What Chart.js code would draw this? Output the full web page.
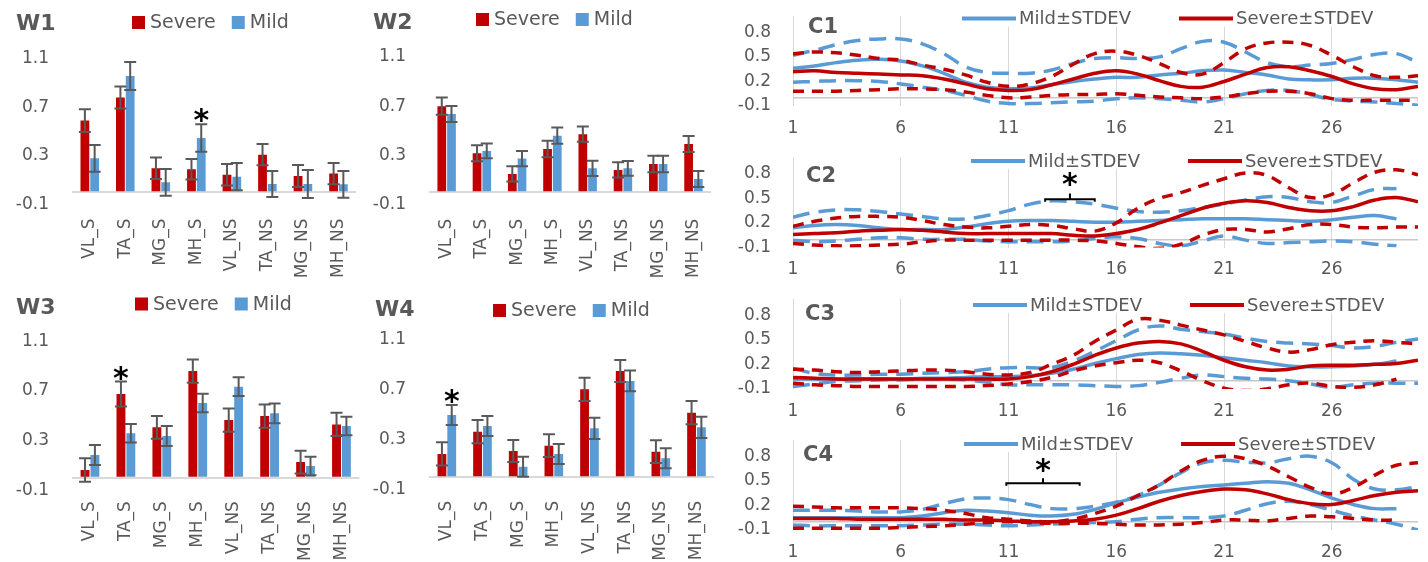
<!DOCTYPE html>
<html><head><meta charset="utf-8">
<script src="https://cdn.jsdelivr.net/npm/chart.js@4.4.1/dist/chart.umd.min.js"></script>
<style>
html,body{margin:0;padding:0;background:#fff;}
body{width:1428px;height:562px;position:relative;overflow:hidden;}
canvas{position:absolute;}
</style></head><body>
<canvas id="w1"></canvas><canvas id="w2"></canvas><canvas id="w3"></canvas><canvas id="w4"></canvas>
<canvas id="c1"></canvas><canvas id="c2"></canvas><canvas id="c3"></canvas><canvas id="c4"></canvas>
<script>
// ---------- DATA ----------
const barCats = ['VL_S','TA_S','MG_S','MH_S','VL_NS','TA_NS','MG_NS','MH_NS'];
const barTicks = [-0.1, 0, 0.3, 0.7, 1.1];

const w1Severe    = [0.59, 0.78, 0.198, 0.19, 0.145, 0.31, 0.134, 0.154];
const w1SevereErr = [0.093, 0.09, 0.088, 0.085, 0.088, 0.088, 0.09, 0.087];
const w1Mild      = [0.28, 0.957, 0.082, 0.447, 0.129, 0.069, 0.069, 0.066];
const w1MildErr   = [0.11, 0.116, 0.11, 0.113, 0.112, 0.107, 0.115, 0.11];

const w2Severe    = [0.70, 0.317, 0.149, 0.352, 0.472, 0.182, 0.23, 0.393];
const w2SevereErr = [0.07, 0.065, 0.062, 0.068, 0.062, 0.062, 0.068, 0.065];
const w2Mild      = [0.637, 0.336, 0.274, 0.46, 0.195, 0.195, 0.23, 0.108];
const w2MildErr   = [0.065, 0.06, 0.062, 0.066, 0.062, 0.06, 0.068, 0.065];

const w3Severe    = [0.062, 0.675, 0.406, 0.86, 0.465, 0.497, 0.126, 0.43];
const w3SevereErr = [0.094, 0.10, 0.091, 0.094, 0.094, 0.094, 0.092, 0.094];
const w3Mild      = [0.183, 0.358, 0.336, 0.602, 0.734, 0.519, 0.094, 0.417];
const w3MildErr   = [0.08, 0.075, 0.081, 0.075, 0.076, 0.08, 0.075, 0.075];

const w4Severe    = [0.187, 0.365, 0.211, 0.253, 0.704, 0.851, 0.205, 0.517];
const w4SevereErr = [0.093, 0.093, 0.088, 0.091, 0.093, 0.088, 0.091, 0.093];
const w4Mild      = [0.499, 0.411, 0.085, 0.187, 0.392, 0.771, 0.152, 0.40];
const w4MildErr   = [0.08, 0.08, 0.08, 0.08, 0.085, 0.083, 0.08, 0.085];

const w1Stars = [['MH_S', 'Mild']];
const w2Stars = [];
const w3Stars = [['TA_S', 'Severe']];
const w4Stars = [['VL_S', 'Mild']];

const days = [1,2,3,4,5,6,7,8,9,10,11,12,13,14,15,16,17,18,19,20,21,22,23,24,25,26,27,28,29,30];
const lineTicksX = [1, 6, 11, 16, 21, 26];
const lineTicksY = [-0.1, 0, 0.2, 0.5, 0.8];

const c1Mild     = [0.36,0.39,0.43,0.46,0.47,0.45,0.39,0.30,0.19,0.13,0.11,0.12,0.16,0.20,0.23,0.25,0.25,0.28,0.30,0.33,0.34,0.31,0.28,0.23,0.22,0.22,0.24,0.24,0.22,0.19];
const c1MildHi   = [0.52,0.58,0.65,0.70,0.72,0.72,0.66,0.54,0.38,0.31,0.30,0.30,0.34,0.42,0.48,0.49,0.48,0.50,0.60,0.69,0.68,0.56,0.43,0.38,0.40,0.42,0.47,0.53,0.54,0.43];
const c1MildLo   = [0.19,0.20,0.21,0.21,0.20,0.17,0.13,0.09,0.03,-0.04,-0.07,-0.07,-0.06,-0.05,-0.04,-0.01,0.00,-0.01,-0.03,-0.05,-0.01,0.05,0.09,0.09,0.04,-0.02,-0.04,-0.05,-0.07,-0.09];
const c1Severe   = [0.32,0.33,0.31,0.30,0.29,0.28,0.27,0.23,0.17,0.11,0.09,0.10,0.16,0.23,0.30,0.33,0.29,0.21,0.14,0.13,0.20,0.29,0.37,0.38,0.33,0.26,0.17,0.11,0.10,0.14];
const c1SevereHi = [0.54,0.56,0.55,0.52,0.48,0.46,0.40,0.35,0.28,0.19,0.14,0.17,0.26,0.41,0.54,0.57,0.52,0.42,0.31,0.29,0.43,0.60,0.67,0.68,0.64,0.52,0.38,0.27,0.25,0.27];
const c1SevereLo = [0.08,0.08,0.08,0.09,0.10,0.11,0.11,0.10,0.07,0.03,0.00,0.01,0.03,0.04,0.04,0.05,0.03,0.01,0.00,-0.01,0.01,0.05,0.08,0.08,0.05,-0.01,-0.03,-0.03,-0.03,-0.03];

const c2Mild     = [0.14,0.17,0.18,0.17,0.14,0.12,0.12,0.12,0.15,0.19,0.22,0.23,0.23,0.22,0.21,0.21,0.22,0.23,0.24,0.25,0.25,0.25,0.24,0.23,0.22,0.24,0.27,0.29,0.25,null];
const c2MildHi   = [0.27,0.33,0.36,0.36,0.34,0.31,0.28,0.25,0.25,0.29,0.35,0.43,0.47,0.46,0.43,0.38,0.34,0.33,0.35,0.39,0.43,0.48,0.52,0.51,0.46,0.45,0.53,0.61,0.62,null];
const c2MildLo   = [-0.01,-0.03,-0.02,0.00,0.02,0.02,0.00,0.00,0.00,-0.02,-0.03,-0.03,-0.03,-0.02,0.01,0.03,0.01,-0.05,-0.08,-0.02,0.04,-0.01,-0.05,-0.04,-0.03,-0.02,-0.03,-0.06,-0.08,null];
const c2Severe   = [0.06,0.07,0.08,0.10,0.11,0.12,0.11,0.09,0.07,0.07,0.07,0.07,0.07,0.05,0.04,0.07,0.12,0.20,0.29,0.38,0.44,0.47,0.45,0.39,0.35,0.35,0.40,0.48,0.51,0.46];
const c2SevereHi = [0.16,0.22,0.26,0.28,0.28,0.27,0.23,0.18,0.15,0.14,0.16,0.18,0.17,0.13,0.10,0.20,0.38,0.50,0.57,0.66,0.74,0.81,0.78,0.63,0.51,0.55,0.69,0.82,0.85,0.79];
const c2SevereLo = [-0.05,-0.07,-0.08,-0.08,-0.07,-0.06,-0.03,-0.01,-0.01,-0.01,-0.01,-0.01,-0.01,-0.01,-0.02,-0.05,-0.09,-0.11,-0.06,0.05,0.12,0.12,0.09,0.13,0.18,0.18,0.15,0.14,0.15,0.15];

const c3Mild     = [0.02,0.02,0.02,0.02,0.02,0.02,0.03,0.03,0.04,0.05,0.05,0.06,0.09,0.14,0.21,0.27,0.32,0.34,0.33,0.31,0.28,0.25,0.22,0.18,0.17,0.17,0.18,0.20,0.24,null];
const c3MildHi   = [0.15,0.09,0.07,0.07,0.08,0.08,0.09,0.10,0.11,0.14,0.16,0.16,0.16,0.24,0.36,0.49,0.62,0.67,0.63,0.60,0.57,0.52,0.48,0.46,0.45,0.43,0.40,0.42,0.47,0.51];
const c3MildLo   = [-0.07,-0.04,-0.01,0.00,0.01,0.01,0.02,0.02,0.01,-0.02,-0.05,-0.05,-0.05,-0.05,-0.06,-0.07,-0.06,-0.02,0.03,0.07,0.05,0.03,0.02,0.00,-0.04,-0.08,-0.05,-0.03,-0.03,-0.03];
const c3Severe   = [0.04,0.03,0.02,0.02,0.02,0.02,0.02,0.02,0.02,0.02,0.02,0.05,0.11,0.20,0.31,0.40,0.46,0.48,0.45,0.36,0.25,0.17,0.13,0.14,0.18,0.19,0.19,0.20,0.21,0.25];
const c3SevereHi = [0.14,0.13,0.11,0.10,0.11,0.12,0.13,0.13,0.11,0.08,0.07,0.10,0.20,0.31,0.48,0.62,0.75,0.74,0.68,0.62,0.56,0.48,0.40,0.35,0.38,0.44,0.47,0.49,0.47,0.45];
const c3SevereLo = [-0.03,-0.05,-0.06,-0.07,-0.07,-0.07,-0.07,-0.07,-0.07,-0.06,-0.04,-0.01,0.04,0.12,0.18,0.22,0.25,0.22,0.12,0.00,-0.09,-0.12,-0.10,-0.05,-0.03,-0.07,-0.08,-0.05,0.02,null];

const c4Mild     = [0.05,0.05,0.05,0.05,0.05,0.05,0.07,0.11,0.14,0.13,0.11,0.08,0.07,0.09,0.15,0.23,0.30,0.36,0.40,0.43,0.45,0.47,0.49,0.47,0.39,0.29,0.21,0.16,0.16,null];
const c4MildHi   = [0.14,0.14,0.14,0.13,0.12,0.12,0.15,0.22,0.28,0.29,0.27,0.21,0.16,0.16,0.19,0.24,0.32,0.45,0.60,0.72,0.75,0.73,0.72,0.77,0.80,0.72,0.52,0.40,0.39,0.43];
const c4MildLo   = [-0.04,-0.05,-0.05,-0.05,-0.05,-0.05,-0.04,-0.03,-0.03,-0.04,-0.05,-0.04,-0.03,-0.02,-0.01,0.00,0.03,0.05,0.05,0.05,0.07,0.14,0.22,0.25,0.21,0.14,0.07,0.02,-0.03,-0.10];
const c4Severe   = [0.04,0.04,0.04,0.03,0.03,0.03,0.03,0.03,0.02,0.02,0.01,0.00,0.00,0.01,0.03,0.08,0.16,0.25,0.32,0.37,0.40,0.39,0.34,0.27,0.22,0.21,0.26,0.32,0.36,0.38];
const c4SevereHi = [0.19,0.18,0.17,0.17,0.17,0.17,0.16,0.14,0.10,0.05,0.03,0.01,0.00,0.03,0.10,0.19,0.32,0.45,0.62,0.75,0.80,0.77,0.68,0.55,0.42,0.34,0.42,0.57,0.69,0.72];
const c4SevereLo = [-0.08,-0.08,-0.08,-0.08,-0.08,-0.07,-0.06,-0.05,-0.03,-0.01,0.00,-0.01,-0.02,-0.02,-0.02,-0.03,-0.04,-0.04,-0.03,-0.01,0.02,0.02,0.01,0.04,0.07,0.06,0.04,0.02,0.02,null];

const c2Bracket = {x0: 12.7, x1: 15.0, y: 0.49, yEnd: 0.46, yTip: 0.56, yStar: 0.76};
const c4Bracket = {x0: 10.9, x1: 14.3, y: 0.47, yEnd: 0.44, yTip: 0.53, yStar: 0.72};

// ---------- STYLE ----------
const RED = '#C00000', BLUE = '#5B9BD5', GRAY = '#595959';
const FONT = "'DejaVu Sans', sans-serif";
Chart.defaults.font.family = FONT;
Chart.defaults.color = GRAY;

function drawStar(ctx, x, cy) {
  ctx.save();
  ctx.font = "bold 30px 'DejaVu Sans'";
  ctx.fillStyle = '#000'; ctx.textAlign = 'center'; ctx.textBaseline = 'alphabetic';
  ctx.fillText('*', x, cy + 0.57 * 30);
  ctx.restore();
}

const errorBarsPlugin = {
  id: 'errorBars',
  afterDatasetsDraw(chart) {
    const ctx = chart.ctx, ys = chart.scales.y;
    ctx.save(); ctx.strokeStyle = GRAY; ctx.lineWidth = 2;
    chart.data.datasets.forEach((ds, i) => {
      if (!ds.errors) return;
      chart.getDatasetMeta(i).data.forEach((el, j) => {
        const v = ds.data[j], e = ds.errors[j];
        const t = ys.getPixelForValue(v + e), b = ys.getPixelForValue(v - e), x = el.x, c = 6;
        ctx.beginPath();
        ctx.moveTo(x, t); ctx.lineTo(x, b);
        ctx.moveTo(x - c, t); ctx.lineTo(x + c, t);
        ctx.moveTo(x - c, b); ctx.lineTo(x + c, b);
        ctx.stroke();
      });
    });
    ctx.restore();
  }
};

const barStarsPlugin = {
  id: 'barStars',
  afterDatasetsDraw(chart, args, opts) {
    (opts.marks || []).forEach(([cat, series]) => {
      const i = chart.data.datasets.findIndex(d => d.label === series);
      const j = chart.data.labels.indexOf(cat);
      const ds = chart.data.datasets[i];
      const el = chart.getDatasetMeta(i).data[j];
      const t = chart.scales.y.getPixelForValue(ds.data[j] + ds.errors[j]);
      drawStar(chart.ctx, el.x, t - 11);
    });
  }
};

const bracketPlugin = {
  id: 'bracket',
  afterDatasetsDraw(chart, args, o) {
    if (!o || o.x0 === undefined) return;
    const ctx = chart.ctx, xs = chart.scales.x, ys = chart.scales.y;
    const x0 = xs.getPixelForValue(o.x0), x1 = xs.getPixelForValue(o.x1), xm = (x0 + x1) / 2;
    const yb = ys.getPixelForValue(o.y), ye = ys.getPixelForValue(o.yEnd), yt = ys.getPixelForValue(o.yTip);
    ctx.save(); ctx.strokeStyle = '#000'; ctx.lineWidth = 2;
    ctx.beginPath();
    ctx.moveTo(x0, ye); ctx.lineTo(x0, yb); ctx.lineTo(x1, yb); ctx.lineTo(x1, ye);
    ctx.moveTo(xm, yb); ctx.lineTo(xm, yt);
    ctx.stroke(); ctx.restore();
    drawStar(ctx, xm, ys.getPixelForValue(o.yStar));
  }
};

function legendLayout(chart, o) {
  const ctx = chart.ctx;
  ctx.save(); ctx.font = o.font;
  const items = chart.data.datasets.filter(d => d.legendLabel).sort((a, b) => a.legendOrder - b.legendOrder);
  let x = o.x; const out = [];
  items.forEach(d => {
    const tw = ctx.measureText(d.legendLabel).width;
    out.push({d, x, tx: x + o.sample + o.gap, tw});
    x += o.sample + o.gap + tw + o.itemGap;
  });
  ctx.restore();
  return {out, end: x - o.itemGap};
}

const overlayLegend = {
  id: 'overlayLegend',
  beforeDatasetsDraw(chart, args, o) {
    if (!o || !o.bg) return;
    const {end} = legendLayout(chart, o);
    const ctx = chart.ctx;
    ctx.save(); ctx.fillStyle = '#fff';
    ctx.fillRect(o.x - 4, o.y - 12, end - o.x + 8, 20);
    ctx.restore();
  },
  afterDatasetsDraw(chart, args, o) {
    if (!o || o.x === undefined) return;
    const ctx = chart.ctx;
    const {out} = legendLayout(chart, o);
    ctx.save();
    out.forEach(it => {
      if (o.kind === 'line') {
        ctx.strokeStyle = it.d.borderColor; ctx.lineWidth = 4; ctx.setLineDash([]);
        ctx.beginPath(); ctx.moveTo(it.x, o.y); ctx.lineTo(it.x + o.sample, o.y); ctx.stroke();
      } else {
        ctx.fillStyle = it.d.backgroundColor;
        ctx.fillRect(it.x, o.y - o.sample / 2, o.sample, o.sample);
      }
      ctx.font = o.font; ctx.fillStyle = GRAY; ctx.textAlign = 'left'; ctx.textBaseline = 'middle';
      ctx.fillText(it.d.legendLabel, it.tx, o.y + 1);
    });
    ctx.restore();
  }
};

const panelTitle = {
  id: 'panelTitle',
  afterDraw(chart, args, o) {
    if (!o || !o.text) return;
    const ctx = chart.ctx;
    ctx.save();
    ctx.font = o.font; ctx.fillStyle = GRAY; ctx.textAlign = 'left'; ctx.textBaseline = 'middle';
    ctx.fillText(o.text, o.x, o.y);
    ctx.restore();
  }
};

function place(id, x, y, w, h) {
  const cv = document.getElementById(id);
  cv.width = w; cv.height = h;
  cv.style.left = x + 'px'; cv.style.top = y + 'px';
  cv.style.width = w + 'px'; cv.style.height = h + 'px';
  return cv;
}

function fixY(width) {
  return s => { s.width = width; s.paddingTop = 0; s.paddingBottom = 0; };
}

function barChart(id, pos, lay, title, sev, sevErr, mild, mildErr, stars) {
  const cv = place(id, pos.x, pos.y, pos.w, pos.h);
  return new Chart(cv, {
    type: 'bar',
    data: {
      labels: barCats,
      datasets: [
        {label: 'Severe', legendLabel: 'Severe', legendOrder: 0, data: sev, errors: sevErr, backgroundColor: RED, categoryPercentage: 0.55, barPercentage: 0.9},
        {label: 'Mild', legendLabel: 'Mild', legendOrder: 1, data: mild, errors: mildErr, backgroundColor: BLUE, categoryPercentage: 0.55, barPercentage: 0.9}
      ]
    },
    options: {
      responsive: false, animation: false, devicePixelRatio: 1,
      layout: {padding: {top: lay.top, right: 2, left: 0, bottom: 0}},
      plugins: {
        legend: {display: false}, tooltip: {enabled: false},
        panelTitle: {text: title, x: lay.tx, y: lay.ty, font: "bold 22px 'DejaVu Sans'"},
        overlayLegend: {kind: 'box', x: lay.lx, y: lay.ly, sample: 13, gap: 5, itemGap: 16, font: "19px 'DejaVu Sans'"},
        barStars: {marks: stars}
      },
      scales: {
        x: {
          grid: {display: false}, border: {display: false},
          ticks: {maxRotation: 90, minRotation: 90, autoSkip: false, padding: lay.xpad, font: {size: 17}, color: GRAY},
          afterFit: s => { s.height = lay.xh; }
        },
        y: {
          min: -0.1, max: 1.1,
          afterBuildTicks: s => { s.ticks = barTicks.map(v => ({value: v})); },
          ticks: {autoSkip: false, callback: v => v === 0 ? '' : v.toFixed(1), padding: 23, font: {size: 17}, color: GRAY},
          grid: {drawTicks: false, lineWidth: 2, color: c => (c.tick && c.tick.value === 0) ? '#D9D9D9' : 'rgba(0,0,0,0)'},
          border: {display: false},
          afterFit: fixY(72)
        }
      }
    },
    plugins: [errorBarsPlugin, barStarsPlugin, overlayLegend, panelTitle]
  });
}

function pts(arr) { return days.map((d, i) => ({x: d, y: arr[i]})); }

function lineChart(id, pos, lay, title, mild, mildHi, mildLo, sev, sevHi, sevLo, bracket) {
  const cv = place(id, pos.x, pos.y, pos.w, pos.h);
  const base = {pointRadius: 0, borderWidth: 3.5, tension: 0.4, fill: false};
  const sevDash = [11, 8], mildDash = [17, 9];
  return new Chart(cv, {
    type: 'line',
    data: {
      datasets: [
        Object.assign({label: 'Severe', legendLabel: 'Severe±STDEV', legendOrder: 1, data: pts(sev), borderColor: RED, backgroundColor: RED}, base),
        Object.assign({label: 'Severe+STDEV', data: pts(sevHi), borderColor: RED, borderDash: sevDash}, base),
        Object.assign({label: 'Severe-STDEV', data: pts(sevLo), borderColor: RED, borderDash: sevDash}, base),
        Object.assign({label: 'Mild', legendLabel: 'Mild±STDEV', legendOrder: 0, data: pts(mild), borderColor: BLUE, backgroundColor: BLUE}, base),
        Object.assign({label: 'Mild+STDEV', data: pts(mildHi), borderColor: BLUE, borderDash: mildDash}, base),
        Object.assign({label: 'Mild-STDEV', data: pts(mildLo), borderColor: BLUE, borderDash: mildDash}, base)
      ]
    },
    options: {
      responsive: false, animation: false, devicePixelRatio: 1,
      layout: {padding: {top: lay.top, right: 10, left: 0, bottom: 0}},
      plugins: {
        legend: {display: false}, tooltip: {enabled: false},
        panelTitle: {text: title, x: lay.tx, y: lay.ty, font: "bold 21px 'DejaVu Sans'"},
        overlayLegend: {kind: 'line', bg: true, x: lay.lx, y: lay.ly, sample: 54, gap: 3, itemGap: 48, font: "18px 'DejaVu Sans'"},
        bracket: bracket || {}
      },
      scales: {
        x: {
          type: 'linear', min: 1, max: 30,
          afterBuildTicks: s => { s.ticks = lineTicksX.map(v => ({value: v})); },
          ticks: {autoSkip: false, callback: v => String(v), padding: 12, font: {size: 17}, color: GRAY, maxRotation: 0},
          grid: {drawTicks: false, color: '#D9D9D9', lineWidth: 1},
          border: {display: false},
          afterFit: s => { s.height = lay.xh; }
        },
        y: {
          min: -0.1, max: 1.0,
          afterBuildTicks: s => { s.ticks = lineTicksY.map(v => ({value: v})); },
          ticks: {autoSkip: false, callback: v => v === 0 ? '' : v.toFixed(1), padding: 22, font: {size: 17}, color: GRAY},
          grid: {drawTicks: false, lineWidth: 1.5, color: c => (c.tick && c.tick.value === 0) ? '#C8C8C8' : 'rgba(0,0,0,0)'},
          border: {display: false},
          afterFit: fixY(73)
        }
      }
    },
    plugins: [overlayLegend, bracketPlugin, panelTitle]
  });
}

barChart('w1', {x: 0, y: 0, w: 365, h: 280},   {top: 58.6, xh: 75.5, xpad: 6, tx: 16, ty: 24, lx: 132, ly: 22.5}, 'W1', w1Severe, w1SevereErr, w1Mild, w1MildErr, w1Stars);
barChart('w2', {x: 357, y: 0, w: 363, h: 280}, {top: 57.0, xh: 75.4, xpad: 6, tx: 16, ty: 23, lx: 119, ly: 19.5}, 'W2', w2Severe, w2SevereErr, w2Mild, w2MildErr, w2Stars);
barChart('w3', {x: 0, y: 280, w: 365, h: 282}, {top: 61.3, xh: 71.9, xpad: 3, tx: 16, ty: 28, lx: 135, ly: 24}, 'W3', w3Severe, w3SevereErr, w3Mild, w3MildErr, w3Stars);
barChart('w4', {x: 357, y: 280, w: 363, h: 282},{top: 59.8, xh: 72.2, xpad: 3, tx: 18, ty: 30, lx: 136, ly: 30.5}, 'W4', w4Severe, w4SevereErr, w4Mild, w4MildErr, w4Stars);

lineChart('c1', {x: 720, y: 0, w: 708, h: 140},   {top: 16,   xh: 34,   tx: 88, ty: 27.5, lx: 242, ly: 18.5}, 'C1', c1Mild, c1MildHi, c1MildLo, c1Severe, c1SevereHi, c1SevereLo, null);
lineChart('c2', {x: 720, y: 141, w: 708, h: 140}, {top: 16.5, xh: 33.5, tx: 86, ty: 35.5, lx: 251, ly: 20},   'C2', c2Mild, c2MildHi, c2MildLo, c2Severe, c2SevereHi, c2SevereLo, c2Bracket);
lineChart('c3', {x: 720, y: 283, w: 708, h: 140}, {top: 15.9, xh: 34.1, tx: 85, ty: 32,   lx: 253, ly: 22},   'C3', c3Mild, c3MildHi, c3MildLo, c3Severe, c3SevereHi, c3SevereLo, null);
lineChart('c4', {x: 720, y: 424, w: 708, h: 138}, {top: 15.9, xh: 32.1, tx: 83, ty: 32,   lx: 244, ly: 20},   'C4', c4Mild, c4MildHi, c4MildLo, c4Severe, c4SevereHi, c4SevereLo, c4Bracket);
</script>
</body></html>
